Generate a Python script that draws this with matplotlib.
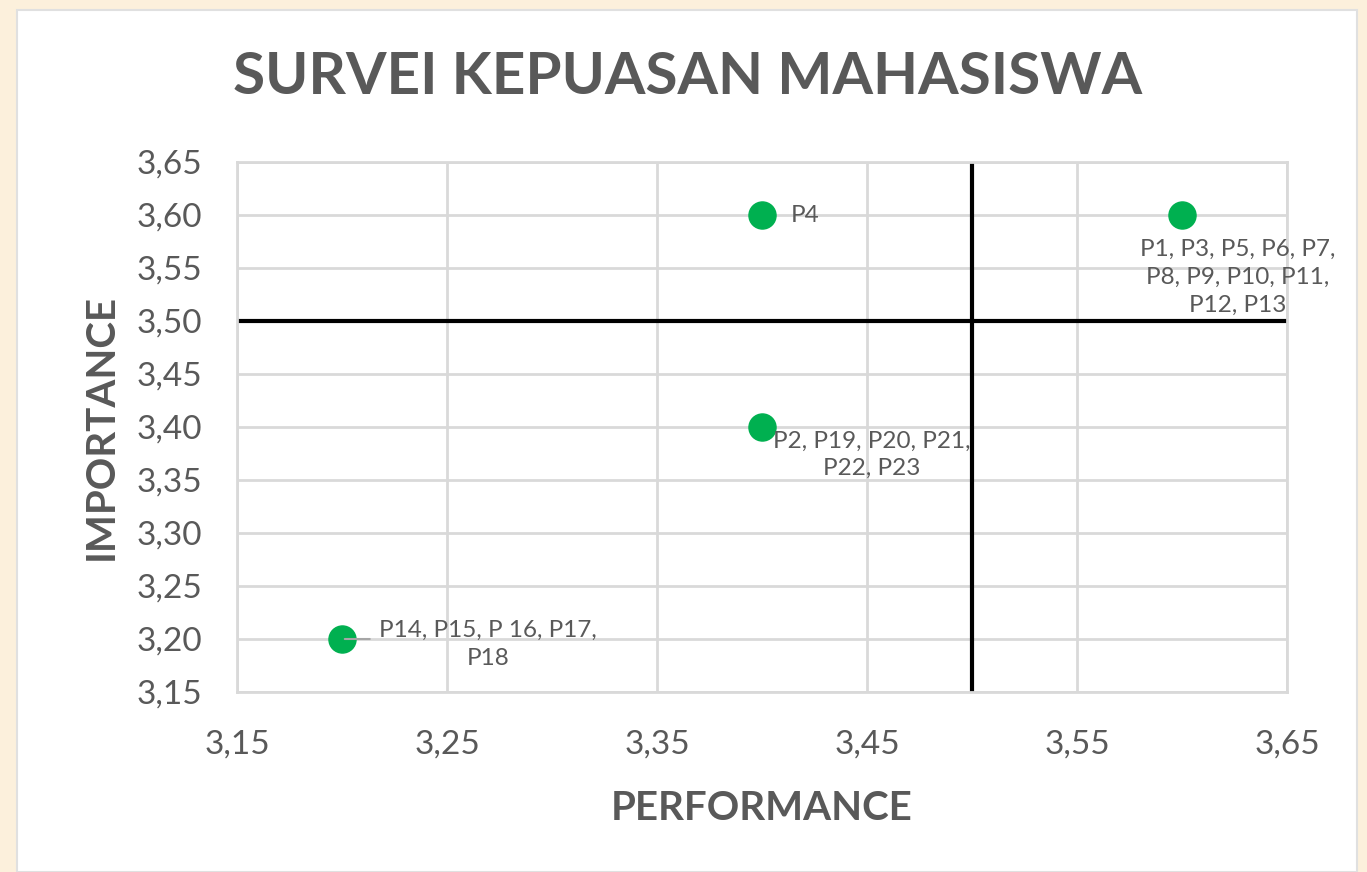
import matplotlib.pyplot as plt
from matplotlib.patches import Rectangle
from matplotlib.ticker import FuncFormatter, MultipleLocator

# data
performance = [3.40, 3.60, 3.40, 3.20]
importance = [3.60, 3.60, 3.40, 3.20]
point_labels = [
    "P4",
    "P1, P3, P5, P6, P7,\nP8, P9, P10, P11,\nP12, P13",
    "P2, P19, P20, P21,\nP22, P23",
    "P14, P15, P 16, P17,\nP18",
]
x_mean = 3.50
y_mean = 3.50

plt.rcParams['font.family'] = ['Lato', 'DejaVu Sans']
grey = '#595959'

fig = plt.figure(figsize=(13.67, 8.72), dpi=100)
fig.patch.set_facecolor('#fcf0dc')
fig.patches.append(Rectangle((17 / 1367, 0), 1340 / 1367, 862 / 872,
                             transform=fig.transFigure, facecolor='white',
                             edgecolor='#e0e0e0', lw=1.5, zorder=-5))

ax = fig.add_axes([237 / 1367, 1 - 692 / 872, 1050 / 1367, 530 / 872])
ax.set_facecolor('white')
ax.set_xlim(3.15, 3.65)
ax.set_ylim(3.15, 3.65)
ax.xaxis.set_major_locator(MultipleLocator(0.10, offset=0.05))
ax.yaxis.set_major_locator(MultipleLocator(0.05))
fmt = FuncFormatter(lambda v, p: f"{v:.2f}".replace('.', ','))
ax.xaxis.set_major_formatter(fmt)
ax.yaxis.set_major_formatter(fmt)
ax.grid(True, color='#d9d9d9', lw=2)
ax.set_axisbelow(True)
for s in ax.spines.values():
    s.set_color('#d9d9d9')
    s.set_linewidth(2)
ax.tick_params(length=0, labelsize=24, labelcolor=grey)
ax.tick_params(axis='x', pad=27)
ax.tick_params(axis='y', pad=25)

ax.axvline(x_mean, color='black', lw=3, zorder=2)
ax.axhline(y_mean, color='black', lw=3, zorder=2)

ax.scatter(performance, importance, s=380, color='#00b050', zorder=3)

# label placement (offsets in points)
offsets = [(21, 0), (40, -45), (79, -20), (105, -4)]
aligns = ['left', 'center', 'center', 'center']
for x, y, lab, off, ha in zip(performance, importance, point_labels, offsets, aligns):
    ax.annotate(lab, (x, y), xytext=off, textcoords='offset points',
                ha=ha, va='center', fontsize=17.5, color=grey, linespacing=1.4,
                zorder=4)
# leader line for the lowest point
ax.annotate('', (performance[3], importance[3]), xytext=(22, 0),
            textcoords='offset points',
            arrowprops=dict(arrowstyle='-', color='#a6a6a6', lw=1.5))

ax.set_xlabel('PERFORMANCE', fontsize=29, fontweight='bold', color=grey, labelpad=22)
ax.set_ylabel('IMPORTANCE', fontsize=29, fontweight='bold', color=grey, labelpad=12)
fig.text(688 / 1367, 1 - 78 / 872, 'SURVEI KEPUASAN MAHASISWA', ha='center',
         va='center', fontsize=42, fontweight='bold', color=grey)

fig.savefig('out.png', dpi=100, facecolor=fig.get_facecolor())
